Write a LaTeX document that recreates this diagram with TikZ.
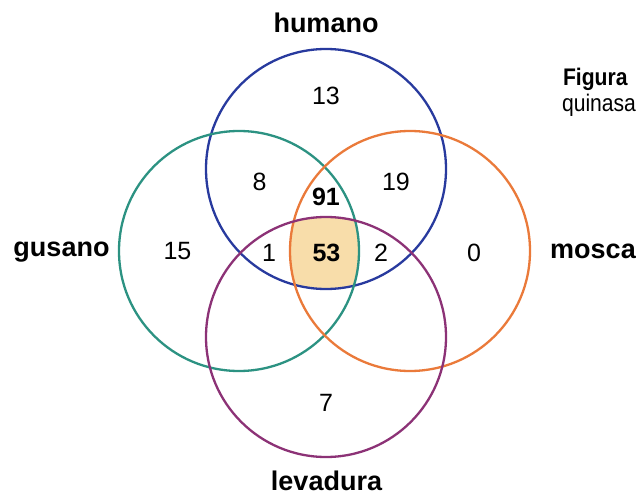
\documentclass[tikz,border=0pt]{standalone}
\usepackage{fontspec}
\setmainfont{Liberation Sans}
\definecolor{cblue}{RGB}{40,58,158}
\definecolor{cgreen}{RGB}{44,146,130}
\definecolor{corange}{RGB}{234,122,58}
\definecolor{cpurple}{RGB}{140,50,118}
\definecolor{ccore}{RGB}{248,221,170}
\begin{document}
\begin{tikzpicture}[x=1pt,y=-1pt,line width=2.3pt]
	\tikzset{every node/.style={font=\fontsize{25}{30}\selectfont},
		lbl/.style={font=\fontsize{27}{32}\selectfont\bfseries,anchor=base}}
	\useasboundingbox (0,0) rectangle (638,495);
	\coordinate (H) at (326,169);
	\coordinate (G) at (239,251);
	\coordinate (M) at (410,251);
	\coordinate (L) at (326,337);
	\begin{scope}
		\clip (H) circle (120pt);
		\clip (G) circle (120pt);
		\clip (M) circle (120pt);
		\fill[ccore] (L) circle (120pt);
	\end{scope}
	\foreach \c/\col in {H/cblue,G/cgreen,M/corange,L/cpurple}
	\draw[\col] (\c) circle (120pt);
	\node[lbl] (humano) at (326,33) {humano};
	\node[lbl] (gusano) at (61.5,256.5) {gusano};
	\node[lbl] (mosca) at (593,258) {mosca};
	\node[lbl] (levadura) at (326.5,490) {levadura};
	\node[font=\fontsize{24}{28}\selectfont\bfseries,xscale=.88,anchor=base west,inner sep=0pt] (figura) at (562,85.5) {Figura};
	\node[font=\fontsize{24}{28}\selectfont,xscale=.88,anchor=base west,inner sep=0pt] (quinasa) at (561,112) {quinasa};
	\foreach \x/\y/\n in {326/96/13,259.5/182/8,396/182/19,177.5/251/15,269/253/1,381/253/2,474/253/0,326/402.5/7}
	\node (n\n) at (\x,\y) {\n};
	\node[font=\fontsize{25}{30}\selectfont\bfseries] (n91) at (326,196.5) {91};
	\node[font=\fontsize{25}{30}\selectfont\bfseries] (n53) at (326.5,253) {53};
\end{tikzpicture}
\end{document}
